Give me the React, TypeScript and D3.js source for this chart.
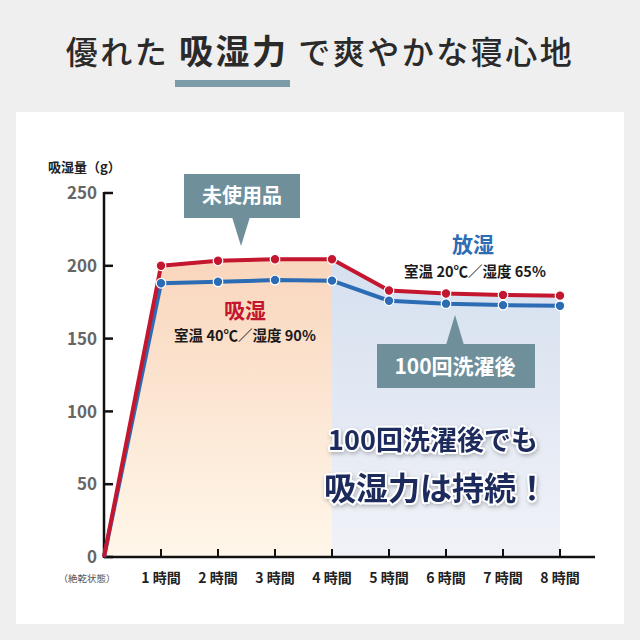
import React from 'react';
import * as d3 from 'd3';

// chart values
const hours = [0, 1, 2, 3, 4, 5, 6, 7, 8];
const hourLabels = ['', '1 時間', '2 時間', '3 時間', '4 時間', '5 時間', '6 時間', '7 時間', '8 時間'];
const unusedValues = [0, 200, 203.5, 204.5, 204.5, 183, 181, 180, 179.5];
const washedValues = [0, 188, 189, 190.2, 189.8, 176, 174, 173, 172.5];
const yTicks = [0, 50, 100, 150, 200, 250];

const JP = '"Noto Sans CJK JP", "Noto Sans", sans-serif';

export default function App() {
    const width = 640;
    const height = 640;

    const x = d3.scaleLinear().domain([0, 8]).range([104, 560]);
    const y = d3.scaleLinear().domain([0, 250]).range([557, 193]);

    const line = d3.line<number>()
        .x((_, i) => x(hours[i]))
        .y(d => y(d));

    // absorption area (0-4h) and release area (4-8h), both under the red line
    const absorb = d3.area<number>()
        .x(i => x(hours[i]))
        .y0(y(0))
        .y1(i => y(unusedValues[i]));
    const absorbIdx = [0, 1, 2, 3, 4];
    const releaseIdx = [4, 5, 6, 7, 8];

    const red = '#c4162e';
    const blue = '#2b6cb4';
    const callout = '#6f8f9b';

    return (
        <svg width={width} height={height} style={{ position: 'absolute', left: 0, top: 0 }}>
            <defs>
                <linearGradient id="warm" x1="0" y1="0" x2="0" y2="1">
                    <stop offset="0%" stopColor="#f9d6bd" />
                    <stop offset="100%" stopColor="#fff7ea" />
                </linearGradient>
                <linearGradient id="cool" x1="0" y1="0" x2="0" y2="1">
                    <stop offset="0%" stopColor="#d5e0ef" />
                    <stop offset="100%" stopColor="#f1f2f8" />
                </linearGradient>
                <filter id="glow" x="-10%" y="-30%" width="120%" height="160%">
                    <feGaussianBlur in="SourceAlpha" stdDeviation="2" />
                    <feOffset dx="1" dy="2" result="b" />
                    <feFlood floodColor="#000" floodOpacity="0.25" />
                    <feComposite in2="b" operator="in" />
                    <feMerge>
                        <feMergeNode />
                        <feMergeNode in="SourceGraphic" />
                    </feMerge>
                </filter>
            </defs>
            <rect x={0} y={0} width={width} height={height} fill="#efefef" />

            {/* title */}
            <text x={320} y={64} textAnchor="middle" fontFamily={JP} fontSize={32} fill="#2a2a2a" letterSpacing={2.5}>
                <tspan fontWeight={500}>優れた </tspan>
                <tspan fontWeight={700} fontSize={34}>吸湿力</tspan>
                <tspan fontWeight={500}> で爽やかな寝心地</tspan>
            </text>
            <rect x={175} y={80} width={115} height={7} fill="#7b9ba7" />

            {/* card */}
            <rect x={16} y={112} width={608} height={512} fill="#ffffff" />

            {/* background areas */}
            <path d={absorb(absorbIdx) || ''} fill="url(#warm)" />
            <path d={absorb(releaseIdx) || ''} fill="url(#cool)" />

            {/* y axis */}
            <text x={48} y={172} fontFamily={JP} fontSize={13} fontWeight={700} fill="#222">吸湿量（g）</text>
            <line x1={x(0)} x2={x(0)} y1={y(250) - 1} y2={y(0) + 1} stroke="#111" strokeWidth={2.5} />
            {yTicks.map(t => (
                <g key={t}>
                    <line x1={x(0)} x2={x(0) + 9} y1={y(t)} y2={y(t)} stroke="#111" strokeWidth={2.5} />
                    <text x={97} y={y(t)} dy="0.36em" textAnchor="end" fontFamily={JP} fontSize={17} fontWeight={700} fill="#666">{t}</text>
                </g>
            ))}

            {/* x axis */}
            <line x1={x(0)} x2={595} y1={y(0)} y2={y(0)} stroke="#111" strokeWidth={2.5} />
            {hours.slice(1).map(h => (
                <line key={h} x1={x(h)} x2={x(h)} y1={y(0)} y2={y(0) - 8} stroke="#111" strokeWidth={2} />
            ))}
            {hours.slice(1).map(h => (
                <text key={h} x={x(h)} y={583} textAnchor="middle" fontFamily={JP} fontSize={14} fontWeight={700} fill="#222">{hourLabels[h]}</text>
            ))}
            <text x={87} y={582} textAnchor="middle" fontFamily={JP} fontSize={9.5} fill="#555">（絶乾状態）</text>

            {/* lines */}
            <path d={line(washedValues) || ''} fill="none" stroke={blue} strokeWidth={4} strokeLinejoin="round" />
            <path d={line(unusedValues) || ''} fill="none" stroke={red} strokeWidth={4} strokeLinejoin="round" />
            {hours.slice(1).map(h => (
                <circle key={'b' + h} cx={x(h)} cy={y(washedValues[h])} r={4.8} fill={blue} stroke="#fff" strokeWidth={1.2} />
            ))}
            {hours.slice(1).map(h => (
                <circle key={'r' + h} cx={x(h)} cy={y(unusedValues[h])} r={4.8} fill={red} stroke="#fff" strokeWidth={1.2} />
            ))}

            {/* callouts */}
            <rect x={184} y={174} width={116} height={44} fill={callout} />
            <path d="M232,217 L250,217 L241,246 Z" fill={callout} />
            <text x={242} y={196} dy="0.36em" textAnchor="middle" fontFamily={JP} fontSize={20} fontWeight={700} fill="#fff">未使用品</text>

            <rect x={377} y={344} width={158} height={44} fill={callout} />
            <path d="M446,345 L464,345 L455,315 Z" fill={callout} />
            <text x={455} y={366} dy="0.36em" textAnchor="middle" fontFamily={JP} fontSize={21} fontWeight={700} fill="#fff">100回洗濯後</text>

            {/* phase labels */}
            <text x={245} y={310} dy="0.36em" textAnchor="middle" fontFamily={JP} fontSize={21} fontWeight={700} fill={red}>吸湿</text>
            <text x={245} y={336} dy="0.36em" textAnchor="middle" fontFamily={JP} fontSize={14.5} fontWeight={700} fill="#1a1a1a">室温 40℃／湿度 90%</text>
            <text x={473} y={244} dy="0.36em" textAnchor="middle" fontFamily={JP} fontSize={21} fontWeight={700} fill={blue}>放湿</text>
            <text x={475} y={272} dy="0.36em" textAnchor="middle" fontFamily={JP} fontSize={14.5} fontWeight={700} fill="#1a1a1a">室温 20℃／湿度 65%</text>

            {/* message */}
            <g filter="url(#glow)" fontFamily={JP} fontWeight={700} fill="#1d2a5c" stroke="#fff" strokeWidth={4} style={{ paintOrder: 'stroke' }} strokeLinejoin="round">
                <text x={433} y={440} dy="0.36em" textAnchor="middle" fontSize={27}>100回洗濯後でも</text>
                <text x={436} y={488} dy="0.36em" textAnchor="middle" fontSize={32}>吸湿力は持続！</text>
            </g>
        </svg>
    );
}
